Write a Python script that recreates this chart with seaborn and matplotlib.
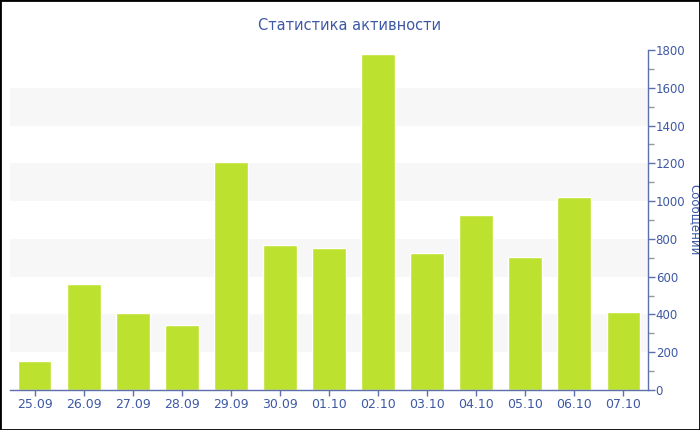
import matplotlib
matplotlib.use("Agg")
import matplotlib.pyplot as plt
from matplotlib.ticker import MultipleLocator
import seaborn as sns
import pandas as pd

# data
days = ["25.09", "26.09", "27.09", "28.09", "29.09", "30.09", "01.10",
        "02.10", "03.10", "04.10", "05.10", "06.10", "07.10"]
messages = [153, 563, 408, 344, 1207, 766, 752, 1777, 727, 926, 704, 1023, 413]
band_starts = [200, 600, 1000, 1400]

bar_color = "#bce22f"
text_color = "#3d58a5"
axis_color = "#5c70ab"

sns.set_theme(style="white")
plt.rcParams["font.family"] = ["DejaVu Sans"]

df = pd.DataFrame({"day": days, "count": messages})

fig = plt.figure(figsize=(7, 4.3), dpi=100)
ax = fig.add_axes([10 / 700, 40 / 430, 638 / 700, 340 / 430])

# alternating light bands
for b in band_starts:
    ax.axhspan(b, b + 200, color="#f7f7f7", zorder=0, lw=0)

sns.barplot(data=df, x="day", y="count", color=bar_color, width=0.69,
            saturation=1, ax=ax, zorder=2)

ax.set_ylim(0, 1800)
ax.set_xlim(-0.5, len(days) - 0.5)
ax.yaxis.tick_right()
ax.yaxis.set_label_position("right")
ax.yaxis.set_major_locator(MultipleLocator(200))
ax.yaxis.set_minor_locator(MultipleLocator(100))
ax.tick_params(axis="y", which="major", length=5, width=1, color=axis_color,
               labelcolor=text_color, labelsize=8.5, pad=0.5, right=True, left=False)
ax.tick_params(axis="y", which="minor", length=4, width=1, color="#999999",
               right=True, left=False)
ax.tick_params(axis="x", length=4, width=1, color=axis_color,
               labelcolor=text_color, labelsize=9, pad=2, bottom=True)

ax.set_xlabel("")
ax.set_ylabel("Сообщений", color=text_color, fontsize=8.5, rotation=270, va="center")
ax.yaxis.set_label_coords(1.073, 0.5)

for side in ["top", "left"]:
    ax.spines[side].set_visible(False)
for side in ["bottom", "right"]:
    ax.spines[side].set_color(axis_color)
    ax.spines[side].set_linewidth(1)

fig.text(0.5, 1 - 25 / 430, "Статистика активности", ha="center", va="center",
         color=text_color, fontsize=10.5)

# black frame around the whole picture
fig.patches.append(plt.Rectangle((0, 0), 1, 1, transform=fig.transFigure,
                                 fill=False, edgecolor="black", lw=2))

fig.savefig("out.png", dpi=100)
